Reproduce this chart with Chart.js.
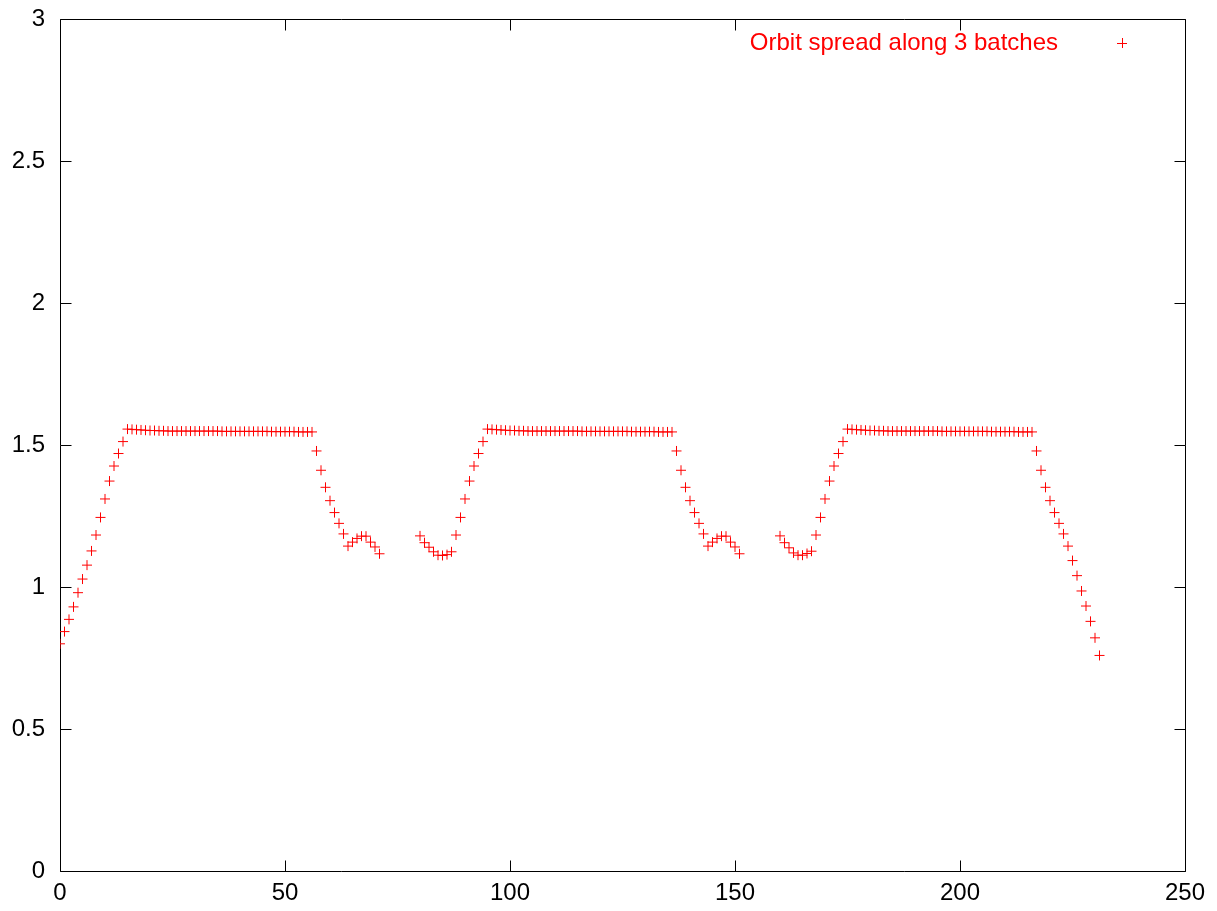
<!DOCTYPE html>
<html>
<head>
<meta charset="utf-8">
<title>Orbit spread along 3 batches</title>
<script src="https://cdn.jsdelivr.net/npm/chart.js@4/dist/chart.umd.min.js"></script>
<style>
  html, body { margin: 0; padding: 0; background: #fff; }
  canvas { display: block; }
</style>
</head>
<body>
<canvas id="spreadChart" width="1217" height="911"></canvas>
<script>
// first bunch index of each batch
const batchStart = [0, 80, 160];

// orbit spread per bunch
const batch1 = [
  0.800, 0.843, 0.886, 0.930, 0.980, 1.028, 1.077, 1.127, 1.183, 1.245,
  1.310, 1.373, 1.426, 1.470, 1.512, 1.556, 1.555, 1.554, 1.553, 1.552,
  1.551, 1.551, 1.550, 1.550, 1.549, 1.549, 1.549, 1.549, 1.549, 1.549,
  1.549, 1.549, 1.549, 1.549, 1.549, 1.549, 1.548, 1.548, 1.548, 1.548,
  1.548, 1.548, 1.548, 1.548, 1.548, 1.548, 1.548, 1.547, 1.547, 1.547,
  1.547, 1.547, 1.547, 1.546, 1.546, 1.546, 1.546, 1.479, 1.411, 1.351,
  1.304, 1.262, 1.224, 1.187, 1.144, 1.158, 1.171, 1.179, 1.179, 1.158,
  1.141, 1.117
];
const batch2 = [
  1.180, 1.156, 1.140, 1.124, 1.112, 1.111, 1.114, 1.124, 1.183, 1.245,
  1.310, 1.373, 1.426, 1.470, 1.512, 1.556, 1.555, 1.554, 1.553, 1.552,
  1.551, 1.551, 1.550, 1.550, 1.549, 1.549, 1.549, 1.549, 1.549, 1.549,
  1.549, 1.549, 1.549, 1.549, 1.549, 1.549, 1.548, 1.548, 1.548, 1.548,
  1.548, 1.548, 1.548, 1.548, 1.548, 1.548, 1.548, 1.547, 1.547, 1.547,
  1.547, 1.547, 1.547, 1.546, 1.546, 1.546, 1.546, 1.479, 1.411, 1.351,
  1.304, 1.262, 1.224, 1.187, 1.144, 1.158, 1.171, 1.179, 1.179, 1.158,
  1.141, 1.117
];
const batch3 = [
  1.180, 1.156, 1.138, 1.120, 1.112, 1.112, 1.118, 1.126, 1.183, 1.245,
  1.310, 1.373, 1.426, 1.470, 1.512, 1.556, 1.555, 1.554, 1.553, 1.552,
  1.551, 1.551, 1.550, 1.550, 1.549, 1.549, 1.549, 1.549, 1.549, 1.549,
  1.549, 1.549, 1.549, 1.549, 1.549, 1.549, 1.548, 1.548, 1.548, 1.548,
  1.548, 1.548, 1.548, 1.548, 1.548, 1.548, 1.548, 1.547, 1.547, 1.547,
  1.547, 1.547, 1.547, 1.546, 1.546, 1.546, 1.546, 1.479, 1.411, 1.351,
  1.304, 1.262, 1.224, 1.187, 1.144, 1.093, 1.040, 0.986, 0.933, 0.879,
  0.821, 0.759
];

const xTicks = [0, 50, 100, 150, 200, 250];
const yTicks = [0, 0.5, 1, 1.5, 2, 2.5, 3];

const points = [];
[batch1, batch2, batch3].forEach((batch, b) => {
  batch.forEach((v, i) => points.push({ x: batchStart[b] + i, y: v }));
});

const FONT = { family: '"Liberation Sans", Arial, sans-serif', size: 24 };

// gnuplot-like frame with inward, mirrored ticks
const frameTicks = {
  id: 'frameTicks',
  beforeDatasetsDraw(chart) {
    const { ctx, chartArea: a, scales } = chart;
    const L = Math.round(a.left) + 0.5, R = Math.round(a.right) + 0.5;
    const T = Math.round(a.top) + 0.5, B = Math.round(a.bottom) + 0.5;
    const len = 11;
    ctx.save();
    ctx.strokeStyle = '#000';
    ctx.lineWidth = 1;
    ctx.beginPath();
    ctx.rect(L, T, R - L, B - T);
    xTicks.forEach(v => {
      const px = Math.round(scales.x.getPixelForValue(v)) + 0.5;
      ctx.moveTo(px, B); ctx.lineTo(px, B - len);
      ctx.moveTo(px, T); ctx.lineTo(px, T + len);
    });
    yTicks.forEach(v => {
      const py = Math.round(scales.y.getPixelForValue(v)) + 0.5;
      ctx.moveTo(L, py); ctx.lineTo(L + len, py);
      ctx.moveTo(R, py); ctx.lineTo(R - len, py);
    });
    ctx.stroke();
    ctx.restore();
  }
};

// key in the top right corner: title then sample
const keyBox = {
  id: 'keyBox',
  afterDraw(chart) {
    const { ctx, chartArea: a } = chart;
    const ds = chart.data.datasets[0];
    const cx = a.right - 63, cy = a.top + 24;
    ctx.save();
    ctx.fillStyle = ds.borderColor;
    ctx.font = FONT.size + 'px ' + FONT.family;
    ctx.textAlign = 'right';
    ctx.textBaseline = 'middle';
    ctx.fillText(ds.label, cx - 64, cy);
    ctx.strokeStyle = ds.borderColor;
    ctx.lineWidth = 1;
    ctx.beginPath();
    ctx.moveTo(cx - 5, cy + 0.5); ctx.lineTo(cx + 5, cy + 0.5);
    ctx.moveTo(cx + 0.5, cy - 5); ctx.lineTo(cx + 0.5, cy + 5);
    ctx.stroke();
    ctx.restore();
  }
};

new Chart(document.getElementById('spreadChart'), {
  type: 'scatter',
  data: {
    datasets: [{
      label: 'Orbit spread along 3 batches',
      data: points,
      borderColor: '#ff0000',
      backgroundColor: '#ff0000',
      pointStyle: 'cross',
      pointRadius: 5,
      pointBorderWidth: 1,
      showLine: false
    }]
  },
  options: {
    responsive: false,
    animation: false,
    layout: { padding: { top: 19, right: 32, left: 0, bottom: 0 } },
    plugins: {
      legend: { display: false },
      tooltip: { enabled: false }
    },
    scales: {
      x: {
        type: 'linear',
        min: 0,
        max: 250,
        afterFit: s => { s.height = 40; s.paddingLeft = 0; s.paddingRight = 0; },
        afterBuildTicks: s => { s.ticks = xTicks.map(v => ({ value: v })); },
        grid: { display: false, drawTicks: false },
        border: { display: false },
        ticks: { font: FONT, color: '#000', padding: 8, maxRotation: 0, callback: v => String(v) }
      },
      y: {
        type: 'linear',
        min: 0,
        max: 3,
        afterFit: s => { s.width = 60; s.paddingTop = 0; s.paddingBottom = 0; },
        afterBuildTicks: s => { s.ticks = yTicks.map(v => ({ value: v })); },
        grid: { display: false, drawTicks: false },
        border: { display: false },
        ticks: { font: FONT, color: '#000', padding: 15, callback: v => String(v) }
      }
    }
  },
  plugins: [frameTicks, keyBox]
});
</script>
</body>
</html>
